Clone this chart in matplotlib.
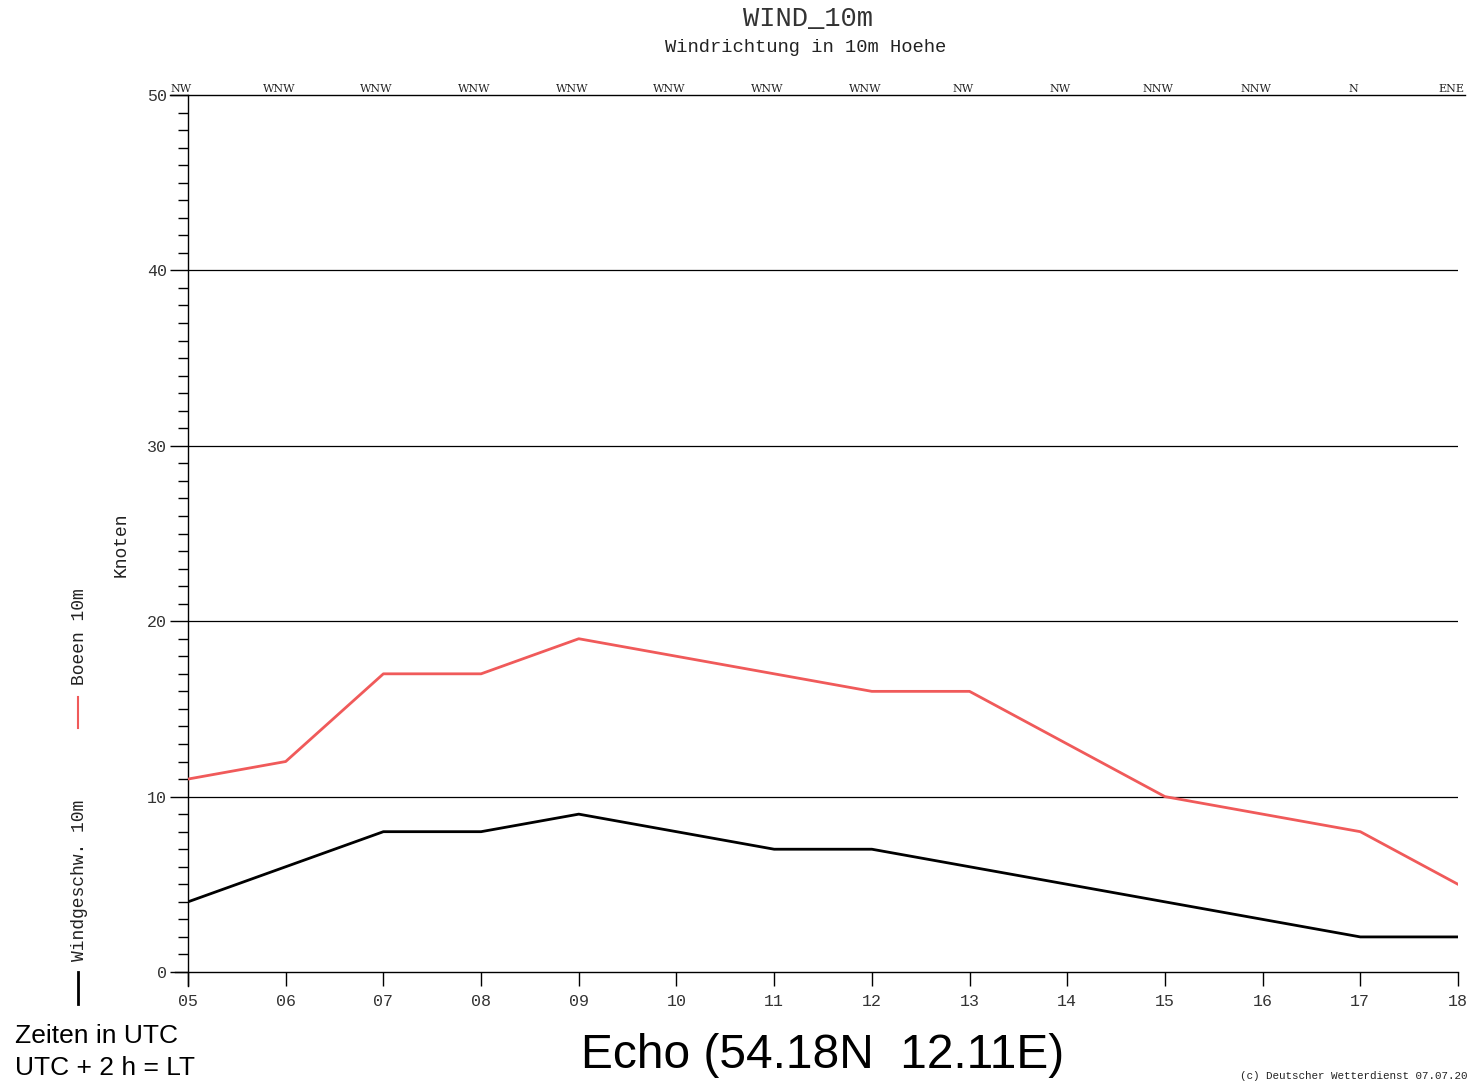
import matplotlib
matplotlib.use("Agg")
import matplotlib.pyplot as plt
from matplotlib.ticker import MultipleLocator

hours = [5, 6, 7, 8, 9, 10, 11, 12, 13, 14, 15, 16, 17, 18]
hour_labels = ["05", "06", "07", "08", "09", "10", "11", "12", "13", "14", "15", "16", "17", "18"]
directions = ["NW", "WNW", "WNW", "WNW", "WNW", "WNW", "WNW", "WNW", "NW", "NW", "NNW", "NNW", "N", "ENE"]
gusts = [11, 12, 17, 17, 19, 18, 17, 16, 16, 13, 10, 9, 8, 5]
speed = [4, 6, 8, 8, 9, 8, 7, 7, 6, 5, 4, 3, 2, 2]

mono = "Liberation Mono"
sans = "Liberation Sans"
red = "#f05a5a"

fig = plt.figure(figsize=(14.72, 10.81), dpi=100)
ax = fig.add_axes([188 / 1472, 1 - 972 / 1081, (1458 - 188) / 1472, (972 - 95) / 1081])

ax.plot(hours, gusts, color=red, lw=2, zorder=3)
ax.plot(hours, speed, color="black", lw=2, zorder=3)

ax.set_xlim(5, 18)
ax.set_ylim(0, 50)
for y in [10, 20, 30, 40]:
    ax.axhline(y, color="black", lw=0.9, zorder=1)

for s in ["right", "bottom", "top"]:
    ax.spines[s].set_visible(False)
ax.spines["left"].set_linewidth(1.0)
ax.spines["left"].set_bounds(-0.8, 50)
# x axis line extending left, top border line
ax.plot([4.87, 18], [0, 0], color="black", lw=1.0, clip_on=False, zorder=4)
ax.plot([4.82, 18.07], [50, 50], color="black", lw=1.0, clip_on=False, zorder=4)

ax.set_xticks(hours)
ax.set_xticklabels(hour_labels, fontfamily=mono, fontsize=12, color="#333333")
ax.set_yticks([0, 10, 20, 30, 40, 50])
ax.set_yticklabels(["0", "10", "20", "30", "40", "50"], fontfamily=mono, fontsize=12, color="#333333")
ax.yaxis.set_minor_locator(MultipleLocator(1))
ax.tick_params(axis="y", which="major", length=13, width=1, pad=2)
ax.tick_params(axis="y", which="minor", length=7, width=1)
ax.tick_params(axis="x", which="major", length=10, width=1, direction="out", pad=6)
ax.xaxis.set_ticks_position("bottom")

# wind directions on top
for h, d in zip(hours, directions):
    ax.text(h - 0.07, 50.05, d, ha="center", va="bottom", fontfamily="DejaVu Serif",
            fontsize=8, color="#222222", clip_on=False)

fig.text(808 / 1472, 1 - 19 / 1081, "WIND_10m", ha="center", va="center",
         fontfamily=mono, fontsize=19.5, color="#333333")
fig.text(806 / 1472, 1 - 47 / 1081, "Windrichtung in 10m Hoehe", ha="center", va="center",
         fontfamily=mono, fontsize=13.5, color="#222222")
fig.text(121 / 1472, 1 - 545 / 1081, "Knoten", rotation=90, ha="center", va="center",
         fontfamily=mono, fontsize=13, color="#222222")
fig.text(79 / 1472, 1 - 637 / 1081, "Boeen 10m", rotation=90, ha="center", va="center",
         fontfamily=mono, fontsize=13, color="#222222")
fig.text(79 / 1472, 1 - 880 / 1081, "Windgeschw. 10m", rotation=90, ha="center", va="center",
         fontfamily=mono, fontsize=13, color="#222222")
fig.add_artist(plt.Line2D([78 / 1472, 78 / 1472], [1 - 697 / 1081, 1 - 728 / 1081], color=red, lw=1.5))
fig.add_artist(plt.Line2D([78 / 1472, 78 / 1472], [1 - 972 / 1081, 1 - 1004 / 1081], color="black", lw=2))

fig.text(15 / 1472, 1 - 1036 / 1081, "Zeiten in UTC", ha="left", va="center",
         fontfamily=sans, fontsize=19, color="black")
fig.text(15 / 1472, 1 - 1068 / 1081, "UTC + 2 h = LT", ha="left", va="center",
         fontfamily=sans, fontsize=19, color="black")
fig.text(823 / 1472, 1 - 1055 / 1081, "Echo (54.18N  12.11E)", ha="center", va="center",
         fontfamily=sans, fontsize=34.5, color="black")
fig.text(1240 / 1472, 1 - 1076 / 1081, "(c) Deutscher Wetterdienst 07.07.20", ha="left", va="center",
         fontfamily=mono, fontsize=7.8, color="#222222")

fig.savefig("out.png", dpi=100)
